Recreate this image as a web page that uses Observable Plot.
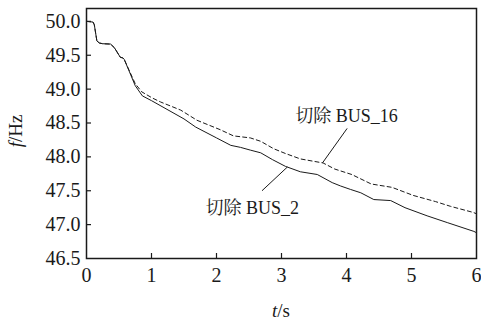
<!DOCTYPE html>
<html>
<head>
<meta charset="utf-8">
<script src="https://cdn.jsdelivr.net/npm/d3@7"></script>
<script src="https://cdn.jsdelivr.net/npm/@observablehq/plot@0.6"></script>
</head>
<body style="margin:0;background:white">
<div id="chart"></div>
<script>
// Tick values
const xTicks = [0, 1, 2, 3, 4, 5, 6];
const yTicks = [46.5, 47.0, 47.5, 48.0, 48.5, 49.0, 49.5, 50.0];

// Series: 切除 BUS_2 (solid)
const tBus2 = [0, 0.1, 0.12, 0.16, 0.2, 0.25, 0.37, 0.43, 0.52, 0.56, 0.58, 0.65, 0.75, 0.86, 1.0, 1.5, 1.68, 2.0, 2.22, 2.37, 2.52, 2.68, 2.86, 3.06, 3.29, 3.55, 3.78, 3.91, 4.06, 4.22, 4.42, 4.68, 4.9, 5.24, 5.55, 5.96, 6.0];
const fBus2 = [50.0, 49.99, 49.95, 49.71, 49.68, 49.67, 49.665, 49.61, 49.47, 49.46, 49.44, 49.28, 49.05, 48.90, 48.83, 48.56, 48.44, 48.28, 48.17, 48.14, 48.10, 48.06, 47.96, 47.86, 47.78, 47.74, 47.62, 47.57, 47.52, 47.47, 47.37, 47.355, 47.25, 47.13, 47.03, 46.90, 46.88];

// Series: 切除 BUS_16 (dashed)
const tBus16 = [0, 0.1, 0.12, 0.16, 0.2, 0.25, 0.37, 0.43, 0.52, 0.56, 0.58, 0.65, 0.75, 0.85, 1.01, 1.14, 1.45, 1.7, 2.06, 2.26, 2.52, 2.68, 2.88, 3.06, 3.29, 3.64, 3.82, 4.08, 4.38, 4.7, 5.03, 5.37, 5.6, 5.95, 6.0];
const fBus16 = [50.0, 49.99, 49.95, 49.71, 49.68, 49.67, 49.665, 49.61, 49.47, 49.46, 49.44, 49.29, 49.08, 48.96, 48.87, 48.81, 48.69, 48.54, 48.40, 48.31, 48.28, 48.23, 48.12, 48.05, 47.97, 47.91, 47.82, 47.74, 47.60, 47.55, 47.43, 47.34, 47.27, 47.18, 47.16];

// Annotations
const labelText = ["切除 BUS_16", "切除 BUS_2"];
const labelT = [4.0, 2.55];
const labelF = [48.51, 47.16];
const leaderT1 = [4.01, 2.70];
const leaderF1 = [48.42, 47.50];
const leaderT2 = [3.63, 3.09];
const leaderF2 = [47.91, 47.85];

const bus2 = tBus2.map((t, i) => ({t, f: fBus2[i]}));
const bus16 = tBus16.map((t, i) => ({t, f: fBus16[i]}));
const labels = labelText.map((text, i) => ({text, t: labelT[i], f: labelF[i]}));
const leaders = leaderT1.map((t1, i) => ({t1, f1: leaderF1[i], t2: leaderT2[i], f2: leaderF2[i]}));

const ink = "#1a1a1a";
const serifFont = "Liberation Serif";

const W = 481, H = 321, mL = 86, mR = 5, mT = 8, mB = 63;
const innerW = W - mL - mR, innerH = H - mT - mB;

const chart = Plot.plot({
  width: W, height: H,
  marginLeft: mL, marginRight: mR, marginTop: mT, marginBottom: mB,
  x: {domain: [0, 6], label: null},
  y: {domain: [46.5, 50.19], label: null},
  style: {fontFamily: serifFont, fontSize: "20px"},
  marks: [
    Plot.axisX({ticks: xTicks, tickSize: 0, tickPadding: 9, tickFormat: d => String(d), fontSize: 20, fontFamily: serifFont, fill: ink, label: null}),
    Plot.axisY({ticks: yTicks, tickSize: 0, tickPadding: 6, tickFormat: d3.format(".1f"), fontSize: 20, fontFamily: serifFont, fill: ink, label: null}),
    Plot.tickX(xTicks.slice(1, -1), {x: d => d, insetTop: innerH - 5, stroke: ink, strokeWidth: 1.2}),
    Plot.tickY(yTicks.slice(1), {y: d => d, insetRight: innerW - 5, stroke: ink, strokeWidth: 1.2}),
    Plot.line(bus16, {x: "t", y: "f", stroke: ink, strokeWidth: 1, strokeDasharray: "4,3"}),
    Plot.line(bus2, {x: "t", y: "f", stroke: ink, strokeWidth: 1}),
    Plot.link(leaders, {x1: "t1", y1: "f1", x2: "t2", y2: "f2", stroke: ink, strokeWidth: 1}),
    Plot.text(labels, {x: "t", y: "f", text: "text", fontSize: 18, fontFamily: "Liberation Serif, Noto Serif CJK SC, serif", lineAnchor: "bottom", fill: ink}),
    Plot.frame({stroke: ink, strokeWidth: 1.5})
  ]
});

const svg = d3.select(chart);
// x axis label: t/s
const xl = svg.append("text")
  .attr("x", mL + innerW / 2).attr("y", 317)
  .attr("text-anchor", "middle")
  .attr("font-family", serifFont)
  .attr("font-size", 19).attr("fill", ink);
xl.append("tspan").attr("font-style", "italic").text("t");
xl.append("tspan").text("/s");
// y axis label: f/Hz
const yl = svg.append("text")
  .attr("transform", `translate(22, ${mT + innerH / 2 - 2}) rotate(-90)`)
  .attr("text-anchor", "middle")
  .attr("font-family", serifFont)
  .attr("font-size", 19).attr("fill", ink);
yl.append("tspan").attr("font-style", "italic").text("f");
yl.append("tspan").text("/Hz");

document.getElementById("chart").appendChild(chart);
</script>
</body>
</html>
